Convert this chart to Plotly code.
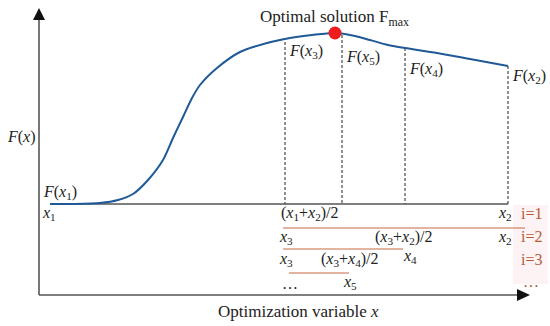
import plotly.graph_objects as go

# Schematic coordinates (x = horizontal position, y = height above bottom)
H = 326
curve_x = [50, 75, 100, 118, 133, 148, 163, 173, 183, 192, 200, 217, 240, 267, 290, 312, 335, 355, 370, 388, 405, 437, 470, 508]
curve_py = [204, 204, 203, 200, 194, 180, 160, 138, 117, 98, 85, 68, 52, 43, 38, 35, 33, 36, 40, 45, 48, 53, 59, 66]
curve_y = [H - v for v in curve_py]

opt_x, opt_py = 335, 33

# dashed verticals: x position and top
vert_x = [285, 342, 405, 508]
vert_top = [42, 35, 48, 66]
base_py = 204

vert_labels = ["<i>F</i>(<i>x</i><sub>3</sub>)", "<i>F</i>(<i>x</i><sub>5</sub>)",
               "<i>F</i>(<i>x</i><sub>4</sub>)", "<i>F</i>(<i>x</i><sub>2</sub>)"]
vert_label_pos = [(287, 51), (344, 57), (407, 69), (510, 76)]

# iteration interval lines (x0, x1, y)
iter_lines = [(283, 525, 228), (283, 403, 249), (289, 349, 273)]
iter_labels = ["i=1", "i=2", "i=3", "…"]

BROWN = "#b45a33"
AX = "#555555"
FONT = "Liberation Serif"

fig = go.Figure()

# dashed verticals
for vx, vt in zip(vert_x, vert_top):
    fig.add_trace(go.Scatter(x=[vx, vx], y=[H - vt, H - base_py], mode="lines",
                             line=dict(color="#222", width=1, dash="3px,2px"),
                             hoverinfo="skip", showlegend=False))

# baseline
fig.add_trace(go.Scatter(x=[50, 508], y=[H - base_py, H - base_py], mode="lines",
                         line=dict(color=AX, width=1.6), hoverinfo="skip", showlegend=False))

# iteration lines
for x0, x1, py in iter_lines:
    fig.add_trace(go.Scatter(x=[x0, x1], y=[H - py, H - py], mode="lines",
                             line=dict(color="#c86a44", width=1.2), hoverinfo="skip", showlegend=False))

# curve
fig.add_trace(go.Scatter(x=curve_x, y=curve_y, mode="lines", line=dict(color="#1f5a96", width=2, shape="spline", smoothing=0.8),
                         hoverinfo="skip", showlegend=False))

# optimum point
fig.add_trace(go.Scatter(x=[opt_x], y=[H - opt_py], mode="markers",
                         marker=dict(color="#ee1c1c", size=13), hoverinfo="skip", showlegend=False))

# axes
shapes = [
    dict(type="rect", x0=513, x1=548, y0=H - 284, y1=H - 205, fillcolor="rgba(250,215,222,0.3)", line=dict(width=0), layer="below"),
    dict(type="line", x0=39, y0=H - 295, x1=39, y1=H - 18, line=dict(color=AX, width=1.6)),
    dict(type="line", x0=39, y0=H - 295, x1=520, y1=H - 295, line=dict(color=AX, width=1.6)),
    dict(type="path", path=f"M 33 {H-20} L 45 {H-20} L 39 {H-8} Z", fillcolor="#111", line=dict(width=0)),
    dict(type="path", path=f"M 517 {H-289} L 517 {H-301} L 530 {H-295} Z", fillcolor="#111", line=dict(width=0)),
]

ann = []
def T(x, py, text, anchor="left", size=16, color="#222", va="middle"):
    ann.append(dict(x=x, y=H - py, text=text, showarrow=False, xanchor=anchor, yanchor=va,
                    font=dict(family=FONT, size=size, color=color)))

T(334, 18, "Optimal solution F<sub>max</sub>", "center", 17)
for lab, (lx, ly) in zip(vert_labels, vert_label_pos):
    T(lx, ly, lab)
T(21, 137, "<i>F</i>(<i>x</i>)", "center")
T(41, 192, "<i>F</i>(<i>x</i><sub>1</sub>)")
T(40, 213, "<i>x</i><sub>1</sub>")
T(310, 213, "(<i>x</i><sub>1</sub>+<i>x</i><sub>2</sub>)/2", "center")
T(496, 213, "<i>x</i><sub>2</sub>")
T(277, 237, "<i>x</i><sub>3</sub>")
T(404, 237, "(<i>x</i><sub>3</sub>+<i>x</i><sub>2</sub>)/2", "center")
T(496, 237, "<i>x</i><sub>2</sub>")
T(277, 259, "<i>x</i><sub>3</sub>")
T(350, 259, "(<i>x</i><sub>3</sub>+<i>x</i><sub>4</sub>)/2", "center")
T(401, 256, "<i>x</i><sub>4</sub>")
T(280, 283, "…")
T(341, 282, "<i>x</i><sub>5</sub>")
for lab, py in zip(iter_labels, [213, 236, 259, 281]):
    T(531, py, lab, "center", color=BROWN)
T(298, 311, "Optimization variable <i>x</i>", "center", 17)

fig.update_layout(
    width=550, height=326, margin=dict(l=0, r=0, t=0, b=0),
    paper_bgcolor="white", plot_bgcolor="white",
    xaxis=dict(range=[0, 550], visible=False, fixedrange=True),
    yaxis=dict(range=[0, H], visible=False, fixedrange=True),
    shapes=shapes, annotations=ann, showlegend=False,
)

fig.write_html("out.html", config={"displayModeBar": False},
               post_script="document.body.style.margin='0px';document.body.style.padding='0px';")
